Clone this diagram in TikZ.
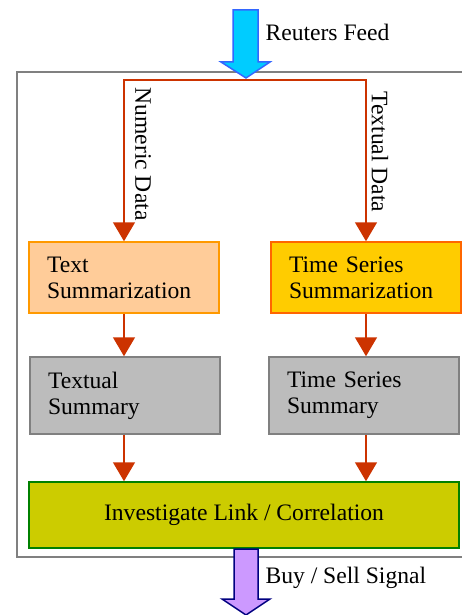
\documentclass[tikz,border=0pt]{standalone}
\usepackage{fontspec}
\setmainfont{Liberation Serif}
\usetikzlibrary{arrows.meta}

\definecolor{feedblue}{RGB}{0,204,255}
\definecolor{feededge}{RGB}{51,102,255}
\definecolor{signalfill}{RGB}{204,153,255}
\definecolor{signaledge}{RGB}{0,0,128}
\definecolor{flowred}{RGB}{204,51,0}
\definecolor{peach}{RGB}{255,204,153}
\definecolor{peachedge}{RGB}{255,153,0}
\definecolor{gold}{RGB}{255,204,0}
\definecolor{goldedge}{RGB}{255,102,0}
\definecolor{olive}{RGB}{204,204,0}
\definecolor{oliveedge}{RGB}{0,128,0}

\begin{document}
\begin{tikzpicture}
[
    x=1pt, y=-1pt,
    font=\fontsize{23.6}{26}\selectfont,
    box/.style={draw, line width=1.5pt, minimum width=190pt, align=left, text width=154pt},
    sumbox/.style={box, minimum height=71pt},
    resbox/.style={box, fill=lightgray!95!gray, draw=gray, minimum height=77pt},
    flow/.style={draw=flowred, line width=1.5pt, -{Triangle[width=22pt,length=19pt]}},
    blockarrow/.style={line width=1.5pt, line join=miter}
]
    \useasboundingbox (0,0) rectangle (462,615);

    % frame round the analysis (its right side lies off the page)
    \draw [gray, line width=2pt] (462,72) -- (17,72) -- (17,557) -- (462,557);

    \node [sumbox, fill=peach, draw=peachedge] (textsum) at (124,277.5)
        {Text\\Summarization};
    \node [sumbox, fill=gold, draw=goldedge] (tssum) at (366,277.5)
        {Time Series\\Summarization};
    \node [resbox] (textres) at (125,395.5) {Textual\\Summary};
    \node [resbox] (tsres) at (364,395.5) {Time Series\\Summary};
    \node [draw=oliveedge, fill=olive, line width=1.5pt, minimum width=430pt,
        minimum height=66pt] (link) at (244,515) {Investigate Link / Correlation};

    % input and output
    \draw [blockarrow, fill=feedblue, draw=feededge]
        (233,10) -- (258,10) -- (258,62) -- (270,62) -- (246,78)
        -- (221,62) -- (233,62) -- cycle;
    \coordinate (split) at (246,80);
    \node [anchor=west] (feed) at (262,32) {Reuters Feed};
    \draw [blockarrow, fill=signalfill, draw=signaledge]
        (234,549) -- (258,549) -- (258,599) -- (270,599) -- (246,615)
        -- (222,599) -- (234,599) -- cycle;
    \node [anchor=west] (signal) at (262,578) {Buy / Sell Signal};

    \draw [flow] (split) -| (textsum.north);
    \draw [flow] (split) -| (tssum.north);
    \node [rotate=-90] (numeric) at (143,154) {Numeric Data};
    \node [rotate=-90] (textual) at (380,152) {Textual Data};

    \draw [flow] (textsum) -- (textsum |- textres.north);
    \draw [flow] (tssum) -- (tssum |- tsres.north);
    \draw [flow] (textsum |- textres.south) -- (textsum |- link.north);
    \draw [flow] (tssum |- tsres.south) -- (tssum |- link.north);
\end{tikzpicture}
\end{document}
